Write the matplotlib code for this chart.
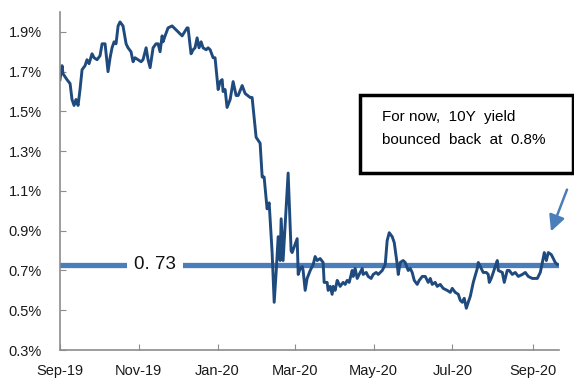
import pandas as pd
import matplotlib
matplotlib.use("Agg")
import matplotlib.pyplot as plt
import matplotlib.dates as mdates
from matplotlib.patches import Rectangle
from matplotlib.ticker import FuncFormatter

plt.rcParams['font.family'] = ['Liberation Sans', 'DejaVu Sans']

# days since 2019-09-01 and 10Y yield (%)
day_offsets = [
    0, 1.6, 2.3, 5.4, 7.8, 9.3, 10.9, 12.4, 14.0, 15.5, 17.1, 19.4, 20.9, 22.5,
    24.8, 26.4, 28.7, 31.0, 32.6, 34.9, 37.2, 38.8, 40.3, 41.9, 43.4, 45.0,
    46.5, 48.8, 51.2, 52.7, 55.0, 56.6, 58.1, 60.5, 62.8, 64.3, 66.7, 68.2,
    69.8, 72.1, 74.4, 76.0, 77.5, 79.1, 79.8, 81.4, 83.7, 86.8, 88.4, 91.5,
    94.6, 98.4, 99.2, 101.5, 103.1, 104.6, 106.2, 107.7, 109.3, 110.8, 113.2,
    114.7, 116.3, 118.6, 120.1, 122.5, 124.0, 125.6, 126.3, 127.9, 129.4,
    131.8, 134.1, 136.4, 138.0, 141.1, 143.4, 147.3, 148.8, 151.9, 155.0,
    156.6, 158.1, 160.4, 162.0, 164.3, 165.9, 167.4, 169.0, 170.5, 171.3,
    172.8, 176.7, 179.0, 179.8, 183.7, 184.5, 186.0, 187.6, 188.3, 189.9,
    191.4, 193.8, 196.1, 197.6, 199.2, 201.5, 203.8, 204.6, 206.9, 207.7,
    209.3, 210.8, 211.6, 213.1, 214.7, 215.5, 217.0, 219.3, 220.9, 222.4,
    224.0, 226.3, 227.1, 228.6, 230.2, 231.7, 234.1, 234.8, 237.2, 238.7,
    241.0, 242.6, 244.9, 246.5, 249.6, 251.9, 253.4, 255.0, 257.3, 258.9,
    261.2, 262.0, 263.5, 265.8, 267.4, 269.7, 271.3, 272.8, 274.4, 276.7,
    278.2, 280.6, 282.9, 285.2, 286.8, 288.3, 290.6, 292.2, 294.5, 296.8,
    299.9, 302.3, 303.8, 306.1, 308.5, 310.0, 311.6, 313.1, 314.7, 316.2,
    317.8, 320.1, 323.2, 324.0, 326.3, 327.8, 330.2, 331.7, 332.5, 334.0,
    335.6, 337.1, 338.7, 339.5, 342.6, 344.1, 346.4, 348.0, 350.3, 352.6,
    355.0, 358.1, 360.4, 362.7, 365.8, 369.7, 372.0, 373.6, 375.1, 376.7,
    378.2, 380.5, 382.1, 383.6, 385.2,
]
yields = [
    1.66, 1.73, 1.69, 1.66, 1.64, 1.56, 1.53, 1.56, 1.53, 1.61, 1.71, 1.73, 1.76, 1.74,
    1.79, 1.77, 1.76, 1.78, 1.84, 1.84, 1.70, 1.77, 1.82, 1.85, 1.84, 1.93,
    1.95, 1.93, 1.84, 1.82, 1.80, 1.75, 1.77, 1.76, 1.75, 1.76, 1.82, 1.76,
    1.72, 1.82, 1.84, 1.84, 1.80, 1.88, 1.85, 1.88, 1.92, 1.93, 1.92, 1.90,
    1.88, 1.92, 1.92, 1.79, 1.81, 1.82, 1.87, 1.82, 1.85, 1.82, 1.81,
    1.82, 1.81, 1.77, 1.77, 1.61, 1.65, 1.66, 1.60, 1.61, 1.52,
    1.56, 1.65, 1.58, 1.58, 1.63, 1.59, 1.57, 1.57, 1.37, 1.34,
    1.17, 1.17, 1.01, 1.04, 0.79, 0.54, 0.69, 0.87, 0.75, 0.96,
    0.75, 1.19, 0.80, 0.79, 0.86, 0.68, 0.71, 0.72, 0.70, 0.60,
    0.66, 0.70, 0.73, 0.77, 0.75, 0.76, 0.74, 0.64, 0.64, 0.60,
    0.62, 0.58, 0.62, 0.60, 0.65, 0.64, 0.62, 0.64, 0.63, 0.65,
    0.64, 0.70, 0.67, 0.71, 0.66, 0.68, 0.71, 0.68, 0.69, 0.67,
    0.66, 0.68, 0.69, 0.68, 0.70, 0.73, 0.85, 0.89, 0.87, 0.84,
    0.73, 0.68, 0.74, 0.75, 0.74, 0.70, 0.71, 0.69, 0.65, 0.63,
    0.65, 0.67, 0.67, 0.64, 0.66, 0.63, 0.64, 0.62, 0.63, 0.61,
    0.60, 0.59, 0.61, 0.59, 0.58, 0.55, 0.54, 0.56, 0.51, 0.54,
    0.57, 0.64, 0.71, 0.74, 0.71, 0.69, 0.69, 0.68, 0.64, 0.66,
    0.69, 0.72, 0.75, 0.70, 0.69, 0.64, 0.70, 0.70, 0.68, 0.69,
    0.67, 0.68, 0.69, 0.67, 0.66, 0.66, 0.69, 0.74, 0.79, 0.75,
    0.79, 0.78, 0.76, 0.74, 0.73,
]
level = 0.73
level_label = "0. 73"
note_lines = ["For now,  10Y  yield", "bounced  back  at  0.8%"]
y_ticks = [0.3, 0.5, 0.7, 0.9, 1.1, 1.3, 1.5, 1.7, 1.9]

start = pd.Timestamp("2019-09-01")
dates = start + pd.to_timedelta(day_offsets, unit="D")

navy = "#1f4a7e"
light_blue = "#4a7ebb"

fig = plt.figure(figsize=(5.74, 3.83), dpi=100)
ax = fig.add_axes([60 / 574, 1 - 350 / 383, 499 / 574, 338 / 383])

ax.axhline(level, color=light_blue, lw=3.8, zorder=1)
ax.plot(dates, yields, color=navy, lw=2.1, zorder=2)
ax.text(start + pd.Timedelta(days=73.5), level, level_label, fontsize=13.5,
        ha="center", va="center", color="#111111", zorder=3,
        bbox=dict(facecolor="white", edgecolor="none", pad=5))

ax.set_xlim(start, start + pd.Timedelta(days=386.5))
ax.set_ylim(0.3, 2.0)
ax.set_yticks(y_ticks)
ax.yaxis.set_major_formatter(FuncFormatter(lambda v, p: f"{v:.1f}%"))
ax.xaxis.set_major_locator(mdates.MonthLocator(bymonth=[1, 3, 5, 7, 9, 11]))
ax.xaxis.set_major_formatter(mdates.DateFormatter("%b-%y"))

for side in ["top", "right"]:
    ax.spines[side].set_visible(False)
for side in ["left", "bottom"]:
    ax.spines[side].set_color("#8c8c8c")
    ax.spines[side].set_linewidth(1.2)
ax.tick_params(axis="both", direction="in", length=4, color="#8c8c8c",
               labelsize=10.5, labelcolor="#1a1a1a")
ax.tick_params(axis="y", pad=13)
ax.tick_params(axis="x", pad=10)

# annotation box
fig.patches.append(Rectangle((360 / 574, 1 - 173 / 383), 213 / 574, 78 / 383,
                             transform=fig.transFigure, facecolor="white",
                             edgecolor="black", lw=2.5))
fig.text(382 / 574, 1 - 117 / 383, note_lines[0], fontsize=11, va="center")
fig.text(382 / 574, 1 - 140 / 383, note_lines[1], fontsize=11, va="center")

ax.annotate("", xy=(550, 383 - 234), xycoords="figure pixels",
            xytext=(568, 383 - 187), textcoords="figure pixels",
            arrowprops=dict(arrowstyle="-|>", color=light_blue, lw=1.8,
                            mutation_scale=24))

fig.savefig("out.png", dpi=100)
